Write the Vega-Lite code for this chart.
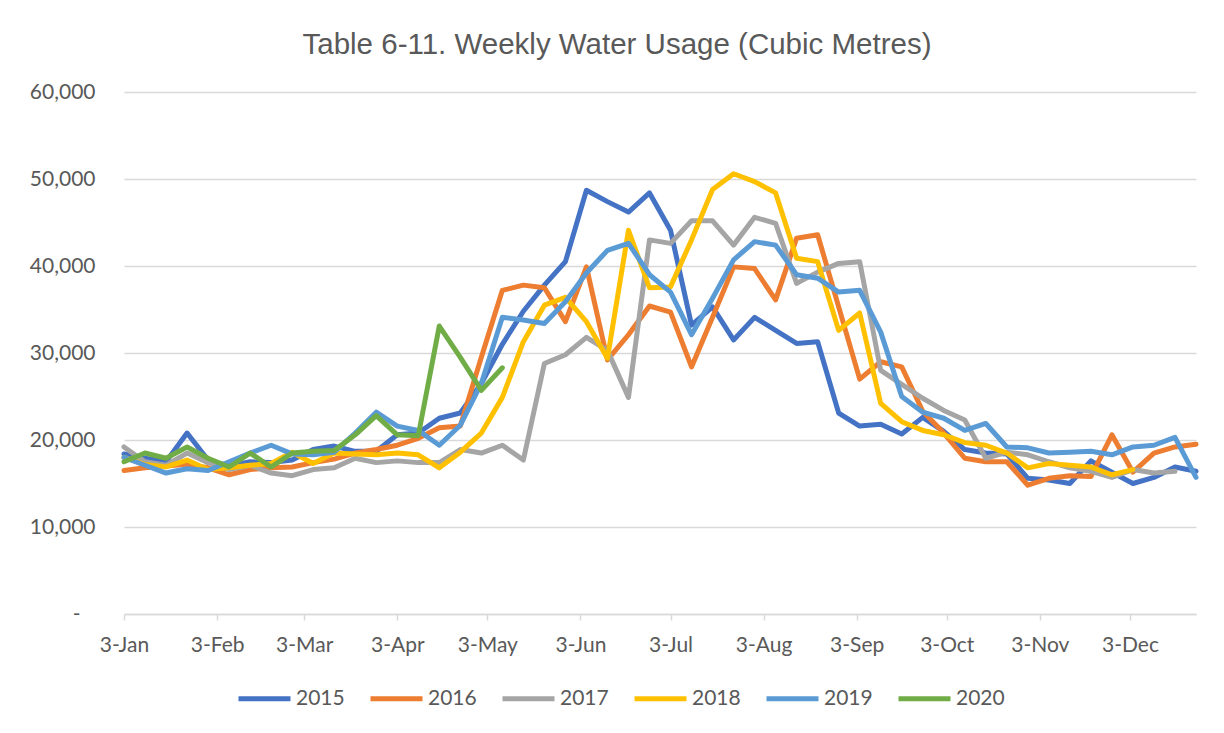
{
  "$schema": "https://vega.github.io/schema/vega-lite/v6.json",
  "width": 1072,
  "height": 522,
  "autosize": {"type": "none"},
  "padding": {"left": 124, "top": 92, "right": 28, "bottom": 119},
  "background": "white",
  "title": {
    "text": "Table 6-11. Weekly Water Usage (Cubic Metres)",
    "anchor": "middle",
    "dx": -43,
    "offset": 21,
    "font": "Liberation Sans",
    "fontSize": 29.5,
    "fontWeight": "normal",
    "color": "#595959"
  },
  "config": {"view": {"stroke": null}},
  "data": {"values": [
{"date":"2020-01-03","year":"2015","value":18400},{"date":"2020-01-10","year":"2015","value":17900},{"date":"2020-01-17","year":"2015","value":17500},{"date":"2020-01-24","year":"2015","value":20800},{"date":"2020-01-31","year":"2015","value":17700},{"date":"2020-02-07","year":"2015","value":17000},{"date":"2020-02-14","year":"2015","value":17500},{"date":"2020-02-21","year":"2015","value":17400},{"date":"2020-02-28","year":"2015","value":17700},{"date":"2020-03-06","year":"2015","value":18900},{"date":"2020-03-13","year":"2015","value":19300},{"date":"2020-03-20","year":"2015","value":18700},{"date":"2020-03-27","year":"2015","value":18700},{"date":"2020-04-03","year":"2015","value":20600},{"date":"2020-04-10","year":"2015","value":20800},{"date":"2020-04-17","year":"2015","value":22500},{"date":"2020-04-24","year":"2015","value":23100},{"date":"2020-05-01","year":"2015","value":26500},{"date":"2020-05-08","year":"2015","value":31000},{"date":"2020-05-15","year":"2015","value":34800},{"date":"2020-05-22","year":"2015","value":37800},{"date":"2020-05-29","year":"2015","value":40500},{"date":"2020-06-05","year":"2015","value":48700},{"date":"2020-06-12","year":"2015","value":47400},{"date":"2020-06-19","year":"2015","value":46200},{"date":"2020-06-26","year":"2015","value":48400},{"date":"2020-07-03","year":"2015","value":44100},{"date":"2020-07-10","year":"2015","value":33200},{"date":"2020-07-17","year":"2015","value":35300},{"date":"2020-07-24","year":"2015","value":31500},{"date":"2020-07-31","year":"2015","value":34100},{"date":"2020-08-07","year":"2015","value":32600},{"date":"2020-08-14","year":"2015","value":31100},{"date":"2020-08-21","year":"2015","value":31300},{"date":"2020-08-28","year":"2015","value":23100},{"date":"2020-09-04","year":"2015","value":21600},{"date":"2020-09-11","year":"2015","value":21800},{"date":"2020-09-18","year":"2015","value":20700},{"date":"2020-09-25","year":"2015","value":22600},{"date":"2020-10-02","year":"2015","value":21000},{"date":"2020-10-09","year":"2015","value":18900},{"date":"2020-10-16","year":"2015","value":18500},{"date":"2020-10-23","year":"2015","value":18400},{"date":"2020-10-30","year":"2015","value":15600},{"date":"2020-11-06","year":"2015","value":15400},{"date":"2020-11-13","year":"2015","value":15000},{"date":"2020-11-20","year":"2015","value":17600},{"date":"2020-11-27","year":"2015","value":16300},{"date":"2020-12-04","year":"2015","value":15000},{"date":"2020-12-11","year":"2015","value":15700},{"date":"2020-12-18","year":"2015","value":16900},{"date":"2020-12-25","year":"2015","value":16400},
{"date":"2020-01-03","year":"2016","value":16500},{"date":"2020-01-10","year":"2016","value":16800},{"date":"2020-01-17","year":"2016","value":17000},{"date":"2020-01-24","year":"2016","value":17200},{"date":"2020-01-31","year":"2016","value":16800},{"date":"2020-02-07","year":"2016","value":16000},{"date":"2020-02-14","year":"2016","value":16600},{"date":"2020-02-21","year":"2016","value":16800},{"date":"2020-02-28","year":"2016","value":16900},{"date":"2020-03-06","year":"2016","value":17400},{"date":"2020-03-13","year":"2016","value":17800},{"date":"2020-03-20","year":"2016","value":18500},{"date":"2020-03-27","year":"2016","value":18900},{"date":"2020-04-03","year":"2016","value":19400},{"date":"2020-04-10","year":"2016","value":20200},{"date":"2020-04-17","year":"2016","value":21400},{"date":"2020-04-24","year":"2016","value":21600},{"date":"2020-05-01","year":"2016","value":29500},{"date":"2020-05-08","year":"2016","value":37200},{"date":"2020-05-15","year":"2016","value":37800},{"date":"2020-05-22","year":"2016","value":37500},{"date":"2020-05-29","year":"2016","value":33600},{"date":"2020-06-05","year":"2016","value":39900},{"date":"2020-06-12","year":"2016","value":29200},{"date":"2020-06-19","year":"2016","value":32100},{"date":"2020-06-26","year":"2016","value":35400},{"date":"2020-07-03","year":"2016","value":34700},{"date":"2020-07-10","year":"2016","value":28400},{"date":"2020-07-17","year":"2016","value":34100},{"date":"2020-07-24","year":"2016","value":39900},{"date":"2020-07-31","year":"2016","value":39700},{"date":"2020-08-07","year":"2016","value":36100},{"date":"2020-08-14","year":"2016","value":43200},{"date":"2020-08-21","year":"2016","value":43600},{"date":"2020-08-28","year":"2016","value":35300},{"date":"2020-09-04","year":"2016","value":27000},{"date":"2020-09-11","year":"2016","value":29000},{"date":"2020-09-18","year":"2016","value":28400},{"date":"2020-09-25","year":"2016","value":23300},{"date":"2020-10-02","year":"2016","value":20800},{"date":"2020-10-09","year":"2016","value":17900},{"date":"2020-10-16","year":"2016","value":17500},{"date":"2020-10-23","year":"2016","value":17500},{"date":"2020-10-30","year":"2016","value":14800},{"date":"2020-11-06","year":"2016","value":15600},{"date":"2020-11-13","year":"2016","value":15900},{"date":"2020-11-20","year":"2016","value":15800},{"date":"2020-11-27","year":"2016","value":20600},{"date":"2020-12-04","year":"2016","value":16300},{"date":"2020-12-11","year":"2016","value":18500},{"date":"2020-12-18","year":"2016","value":19200},{"date":"2020-12-25","year":"2016","value":19500},
{"date":"2020-01-03","year":"2017","value":19200},{"date":"2020-01-10","year":"2017","value":17500},{"date":"2020-01-17","year":"2017","value":17100},{"date":"2020-01-24","year":"2017","value":18500},{"date":"2020-01-31","year":"2017","value":17400},{"date":"2020-02-07","year":"2017","value":16600},{"date":"2020-02-14","year":"2017","value":17100},{"date":"2020-02-21","year":"2017","value":16200},{"date":"2020-02-28","year":"2017","value":15900},{"date":"2020-03-06","year":"2017","value":16600},{"date":"2020-03-13","year":"2017","value":16800},{"date":"2020-03-20","year":"2017","value":17900},{"date":"2020-03-27","year":"2017","value":17400},{"date":"2020-04-03","year":"2017","value":17600},{"date":"2020-04-10","year":"2017","value":17400},{"date":"2020-04-17","year":"2017","value":17400},{"date":"2020-04-24","year":"2017","value":18900},{"date":"2020-05-01","year":"2017","value":18500},{"date":"2020-05-08","year":"2017","value":19400},{"date":"2020-05-15","year":"2017","value":17700},{"date":"2020-05-22","year":"2017","value":28800},{"date":"2020-05-29","year":"2017","value":29800},{"date":"2020-06-05","year":"2017","value":31800},{"date":"2020-06-12","year":"2017","value":30300},{"date":"2020-06-19","year":"2017","value":24900},{"date":"2020-06-26","year":"2017","value":43000},{"date":"2020-07-03","year":"2017","value":42600},{"date":"2020-07-10","year":"2017","value":45200},{"date":"2020-07-17","year":"2017","value":45200},{"date":"2020-07-24","year":"2017","value":42400},{"date":"2020-07-31","year":"2017","value":45600},{"date":"2020-08-07","year":"2017","value":44900},{"date":"2020-08-14","year":"2017","value":38000},{"date":"2020-08-21","year":"2017","value":39300},{"date":"2020-08-28","year":"2017","value":40300},{"date":"2020-09-04","year":"2017","value":40500},{"date":"2020-09-11","year":"2017","value":28000},{"date":"2020-09-18","year":"2017","value":26400},{"date":"2020-09-25","year":"2017","value":24800},{"date":"2020-10-02","year":"2017","value":23400},{"date":"2020-10-09","year":"2017","value":22300},{"date":"2020-10-16","year":"2017","value":17900},{"date":"2020-10-23","year":"2017","value":18600},{"date":"2020-10-30","year":"2017","value":18300},{"date":"2020-11-06","year":"2017","value":17500},{"date":"2020-11-13","year":"2017","value":16800},{"date":"2020-11-20","year":"2017","value":16400},{"date":"2020-11-27","year":"2017","value":15700},{"date":"2020-12-04","year":"2017","value":16600},{"date":"2020-12-11","year":"2017","value":16200},{"date":"2020-12-18","year":"2017","value":16400},
{"date":"2020-01-03","year":"2018","value":18000},{"date":"2020-01-10","year":"2018","value":17200},{"date":"2020-01-17","year":"2018","value":16900},{"date":"2020-01-24","year":"2018","value":17700},{"date":"2020-01-31","year":"2018","value":16600},{"date":"2020-02-07","year":"2018","value":16800},{"date":"2020-02-14","year":"2018","value":17100},{"date":"2020-02-21","year":"2018","value":17300},{"date":"2020-02-28","year":"2018","value":18600},{"date":"2020-03-06","year":"2018","value":17300},{"date":"2020-03-13","year":"2018","value":18500},{"date":"2020-03-20","year":"2018","value":18400},{"date":"2020-03-27","year":"2018","value":18300},{"date":"2020-04-03","year":"2018","value":18500},{"date":"2020-04-10","year":"2018","value":18300},{"date":"2020-04-17","year":"2018","value":16800},{"date":"2020-04-24","year":"2018","value":18600},{"date":"2020-05-01","year":"2018","value":20800},{"date":"2020-05-08","year":"2018","value":24900},{"date":"2020-05-15","year":"2018","value":31300},{"date":"2020-05-22","year":"2018","value":35500},{"date":"2020-05-29","year":"2018","value":36400},{"date":"2020-06-05","year":"2018","value":33600},{"date":"2020-06-12","year":"2018","value":29400},{"date":"2020-06-19","year":"2018","value":44100},{"date":"2020-06-26","year":"2018","value":37500},{"date":"2020-07-03","year":"2018","value":37600},{"date":"2020-07-10","year":"2018","value":43000},{"date":"2020-07-17","year":"2018","value":48800},{"date":"2020-07-24","year":"2018","value":50600},{"date":"2020-07-31","year":"2018","value":49700},{"date":"2020-08-07","year":"2018","value":48400},{"date":"2020-08-14","year":"2018","value":40900},{"date":"2020-08-21","year":"2018","value":40500},{"date":"2020-08-28","year":"2018","value":32600},{"date":"2020-09-04","year":"2018","value":34600},{"date":"2020-09-11","year":"2018","value":24200},{"date":"2020-09-18","year":"2018","value":22100},{"date":"2020-09-25","year":"2018","value":21100},{"date":"2020-10-02","year":"2018","value":20600},{"date":"2020-10-09","year":"2018","value":19700},{"date":"2020-10-16","year":"2018","value":19400},{"date":"2020-10-23","year":"2018","value":18500},{"date":"2020-10-30","year":"2018","value":16800},{"date":"2020-11-06","year":"2018","value":17300},{"date":"2020-11-13","year":"2018","value":17100},{"date":"2020-11-20","year":"2018","value":16900},{"date":"2020-11-27","year":"2018","value":16000},{"date":"2020-12-04","year":"2018","value":16600},
{"date":"2020-01-03","year":"2019","value":18000},{"date":"2020-01-10","year":"2019","value":17100},{"date":"2020-01-17","year":"2019","value":16200},{"date":"2020-01-24","year":"2019","value":16700},{"date":"2020-01-31","year":"2019","value":16500},{"date":"2020-02-07","year":"2019","value":17500},{"date":"2020-02-14","year":"2019","value":18500},{"date":"2020-02-21","year":"2019","value":19400},{"date":"2020-02-28","year":"2019","value":18400},{"date":"2020-03-06","year":"2019","value":18300},{"date":"2020-03-13","year":"2019","value":18600},{"date":"2020-03-20","year":"2019","value":20800},{"date":"2020-03-27","year":"2019","value":23200},{"date":"2020-04-03","year":"2019","value":21600},{"date":"2020-04-10","year":"2019","value":21100},{"date":"2020-04-17","year":"2019","value":19400},{"date":"2020-04-24","year":"2019","value":21700},{"date":"2020-05-01","year":"2019","value":26500},{"date":"2020-05-08","year":"2019","value":34100},{"date":"2020-05-15","year":"2019","value":33800},{"date":"2020-05-22","year":"2019","value":33400},{"date":"2020-05-29","year":"2019","value":35900},{"date":"2020-06-05","year":"2019","value":39200},{"date":"2020-06-12","year":"2019","value":41800},{"date":"2020-06-19","year":"2019","value":42600},{"date":"2020-06-26","year":"2019","value":39000},{"date":"2020-07-03","year":"2019","value":37000},{"date":"2020-07-10","year":"2019","value":32100},{"date":"2020-07-17","year":"2019","value":36300},{"date":"2020-07-24","year":"2019","value":40700},{"date":"2020-07-31","year":"2019","value":42800},{"date":"2020-08-07","year":"2019","value":42400},{"date":"2020-08-14","year":"2019","value":39000},{"date":"2020-08-21","year":"2019","value":38600},{"date":"2020-08-28","year":"2019","value":37000},{"date":"2020-09-04","year":"2019","value":37200},{"date":"2020-09-11","year":"2019","value":32400},{"date":"2020-09-18","year":"2019","value":25000},{"date":"2020-09-25","year":"2019","value":23200},{"date":"2020-10-02","year":"2019","value":22500},{"date":"2020-10-09","year":"2019","value":21100},{"date":"2020-10-16","year":"2019","value":21900},{"date":"2020-10-23","year":"2019","value":19200},{"date":"2020-10-30","year":"2019","value":19100},{"date":"2020-11-06","year":"2019","value":18500},{"date":"2020-11-13","year":"2019","value":18600},{"date":"2020-11-20","year":"2019","value":18700},{"date":"2020-11-27","year":"2019","value":18300},{"date":"2020-12-04","year":"2019","value":19200},{"date":"2020-12-11","year":"2019","value":19400},{"date":"2020-12-18","year":"2019","value":20300},{"date":"2020-12-25","year":"2019","value":15700},
{"date":"2020-01-03","year":"2020","value":17500},{"date":"2020-01-10","year":"2020","value":18500},{"date":"2020-01-17","year":"2020","value":17900},{"date":"2020-01-24","year":"2020","value":19200},{"date":"2020-01-31","year":"2020","value":17900},{"date":"2020-02-07","year":"2020","value":16900},{"date":"2020-02-14","year":"2020","value":18500},{"date":"2020-02-21","year":"2020","value":16900},{"date":"2020-02-28","year":"2020","value":18500},{"date":"2020-03-06","year":"2020","value":18700},{"date":"2020-03-13","year":"2020","value":18800},{"date":"2020-03-20","year":"2020","value":20600},{"date":"2020-03-27","year":"2020","value":22800},{"date":"2020-04-03","year":"2020","value":20600},{"date":"2020-04-10","year":"2020","value":20500},{"date":"2020-04-17","year":"2020","value":33100},{"date":"2020-04-24","year":"2020","value":29500},{"date":"2020-05-01","year":"2020","value":25700},{"date":"2020-05-08","year":"2020","value":28300}
  ]},
  "mark": {"type": "line", "strokeWidth": 5, "strokeCap": "round", "strokeJoin": "round"},
  "encoding": {
    "x": {
      "field": "date",
      "type": "temporal",
      "scale": {"type": "utc", "domain": [1578009600000, 1608854400000], "nice": false},
      "axis": {
        "title": null,
        "values": [
          {"year": 2020, "month": 1, "date": 3, "utc": true},
          {"year": 2020, "month": 2, "date": 3, "utc": true},
          {"year": 2020, "month": 3, "date": 3, "utc": true},
          {"year": 2020, "month": 4, "date": 3, "utc": true},
          {"year": 2020, "month": 5, "date": 3, "utc": true},
          {"year": 2020, "month": 6, "date": 3, "utc": true},
          {"year": 2020, "month": 7, "date": 3, "utc": true},
          {"year": 2020, "month": 8, "date": 3, "utc": true},
          {"year": 2020, "month": 9, "date": 3, "utc": true},
          {"year": 2020, "month": 10, "date": 3, "utc": true},
          {"year": 2020, "month": 11, "date": 3, "utc": true},
          {"year": 2020, "month": 12, "date": 3, "utc": true}
        ],
        "labelExpr": "utcFormat(datum.value, '%-d-%b')",
        "grid": false,
        "domainColor": "#D9D9D9",
        "domainWidth": 1.5,
        "tickColor": "#D9D9D9",
        "tickWidth": 1.5,
        "tickSize": 6,
        "labelFont": "Lato",
        "labelFontSize": 21,
        "labelColor": "#595959",
        "labelPadding": 14,
        "labelFlush": false,
        "labelOverlap": false
      }
    },
    "y": {
      "field": "value",
      "type": "quantitative",
      "scale": {"domain": [0, 60000], "nice": false},
      "axis": {
        "title": null,
        "values": [0, 10000, 20000, 30000, 40000, 50000, 60000],
        "labelExpr": "datum.value == 0 ? '-\u2800' : format(datum.value, ',')",
        "domain": false,
        "ticks": false,
        "tickSize": 0,
        "gridColor": "#D9D9D9",
        "gridWidth": 1.5,
        "labelFont": "Lato",
        "labelFontSize": 21,
        "labelColor": "#595959",
        "labelPadding": 29
      }
    },
    "color": {
      "field": "year",
      "type": "nominal",
      "scale": {
        "domain": ["2015", "2016", "2017", "2018", "2019", "2020"],
        "range": ["#4472C4", "#ED7D31", "#A5A5A5", "#FFC000", "#5B9BD5", "#70AD47"]
      },
      "legend": {
        "title": null,
        "orient": "none",
        "legendX": 112,
        "legendY": 578,
        "direction": "horizontal",
        "padding": 0,
        "symbolType": "stroke",
        "symbolStrokeWidth": 5,
        "symbolSize": 2704,
        "labelFont": "Lato",
        "labelFontSize": 21,
        "labelColor": "#595959",
        "labelOffset": 3,
        "columnPadding": 15
      }
    }
  }
}
